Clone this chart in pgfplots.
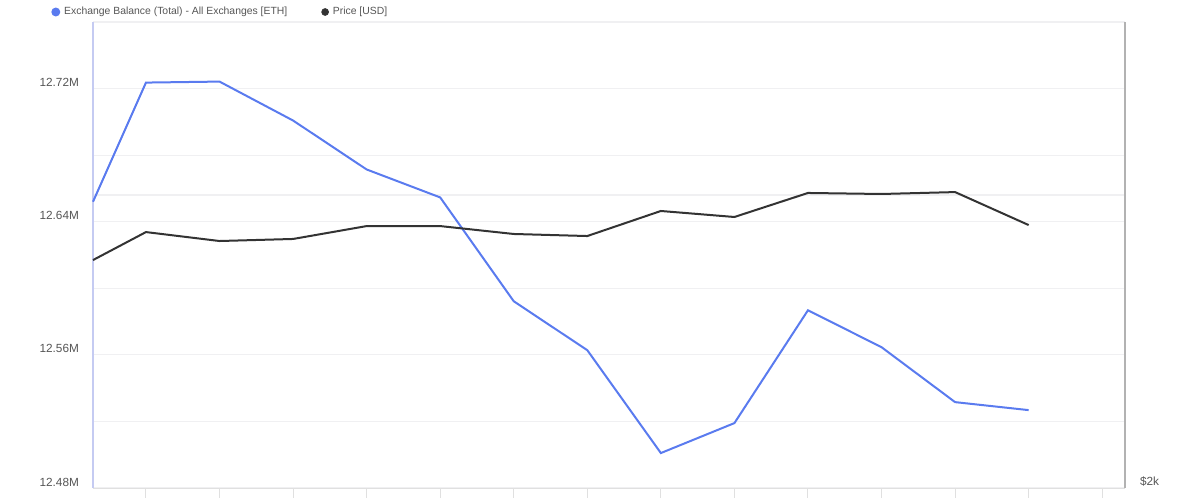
\documentclass[border=0pt]{standalone}
\usepackage{pgfplots}
\pgfplotsset{compat=1.18}
\usepackage{fontspec}
\setmainfont{Liberation Sans}
\definecolor{ethblue}{HTML}{5A7BEF}
\definecolor{pricec}{HTML}{333333}
\definecolor{gridc}{HTML}{F0F0F2}
\definecolor{lblc}{HTML}{555555}
\definecolor{laxis}{HTML}{C5CBF2}
\begin{document}
\begin{tikzpicture}[x=1pt,y=1pt]
\useasboundingbox (0,0) rectangle (600,250);
\begin{axis}[
  at={(46.5pt,6pt)}, anchor=south west,
  scale only axis, width=516pt, height=233pt,
  xmin=0.28, xmax=14.31, ymin=12.48, ymax=12.76,
  axis x line*=bottom, axis y line*=left,
  x axis line style={draw=black!12, -},
  y axis line style={draw=laxis, line width=0.6pt, -},
  xtick={1,...,14}, xticklabels={},
  x tick style={draw=black!12, line width=0.5pt},
  major tick length=5pt, tick align=outside,
  ytick={12.48,12.56,12.64,12.72},
  minor ytick={12.52,12.60,12.656,12.68,12.76},
  y tick style={draw=none}, minor tick length=0pt,
  ymajorgrids, yminorgrids,
  major grid style={draw=gridc, line width=0.6pt},
  minor grid style={draw=gridc, line width=0.6pt},
  yticklabel={\pgfmathprintnumber[fixed,precision=2,fixed zerofill]{\tick}M},
  /pgf/number format/assume math mode=true,
  yticklabel style={font=\fontsize{5.9pt}{7pt}\selectfont, text=lblc, yshift=3pt, xshift=1.5pt},
  legend style={at={(0,1)}, anchor=west, xshift=-21pt, yshift=5pt, draw=none, fill=none,
     font=\fontsize{5.2pt}{6pt}\selectfont, text=lblc, inner sep=0pt,
     /tikz/every even column/.append style={column sep=15pt}},
  legend columns=2,
  legend image code/.code={\fill (1.5pt,0pt) circle (1.7pt);},
  clip=false,
]
\addplot[ethblue, line width=1pt] coordinates {
(0.28,12.652) (1,12.7236) (2,12.7242) (3,12.7008) (4,12.6714) (5,12.6546)
(6,12.5922) (7,12.5628) (8,12.501) (9,12.519) (10,12.5868) (11,12.5646)
(12,12.5316) (13,12.5268)};
\addlegendentry{Exchange Balance (Total) - All Exchanges [ETH]}
\addlegendimage{pricec, fill=pricec}
\addlegendentry{Price [USD]}
\end{axis}
\begin{axis}[
  at={(46.5pt,6pt)}, anchor=south west,
  scale only axis, width=516pt, height=233pt,
  xmin=0.28, xmax=14.31, ymin=2000, ymax=5181,
  axis x line=none, axis y line*=right,
  y axis line style={draw=black!30, line width=0.6pt, -},
  ytick={2000}, yticklabels={\$2k},
  y tick style={draw=none},
  yticklabel style={font=\fontsize{5.9pt}{7pt}\selectfont, text=lblc, yshift=3pt, xshift=4pt},
  clip=false,
]
\addplot[pricec, line width=1pt] coordinates {
(0.28,3556) (1,3747) (2,3686) (3,3700) (4,3788) (5,3788) (6,3734) (7,3720)
(8,3891) (9,3850) (10,4014) (11,4007) (12,4020) (13,3795)};
\end{axis}
\end{tikzpicture}
\end{document}
